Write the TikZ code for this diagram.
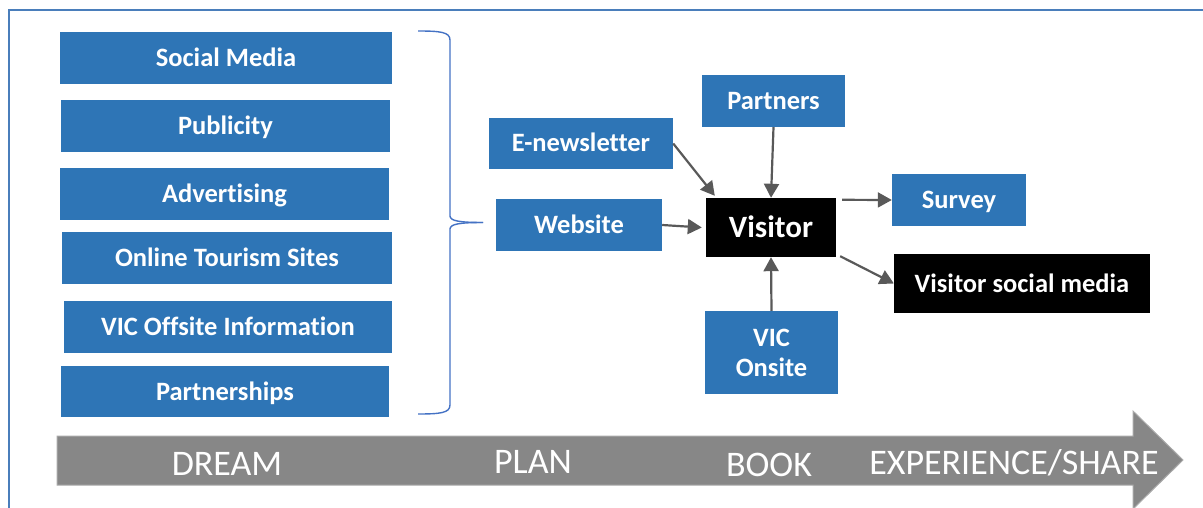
\documentclass[tikz,border=0pt]{standalone}
\usepackage{fontspec}
\setmainfont{Carlito}[Ligatures={TeX,NoCommon}]
\usetikzlibrary{arrows.meta,calc}
\definecolor{boxblue}{RGB}{46,117,182}
\definecolor{frameblue}{RGB}{74,126,187}
\definecolor{braceblue}{RGB}{68,114,196}
\definecolor{arrgray}{RGB}{89,89,89}
\definecolor{bandgray}{RGB}{135,135,135}
\definecolor{bandedge}{RGB}{170,170,170}
\begin{document}
\begin{tikzpicture}[x=1pt,y=-1pt,
  box/.style={fill=boxblue, text=white, font=\fontsize{26.5}{30}\selectfont\bfseries,
    inner sep=0pt, text height=17pt, text depth=0pt, anchor=center},
  darkbox/.style={box, fill=black},
  arr/.style={draw=arrgray, line width=2.2pt, -{Triangle[length=14pt,width=15pt]}},
  bracepath/.style={draw=braceblue, line width=1.4pt},
  framepath/.style={draw=frameblue, line width=2pt},
  bandlabel/.style={text=white, font=\fontsize{36}{40}\selectfont, inner sep=0pt, anchor=base}]
\useasboundingbox (0,0) rectangle (1203,508);
% frame
\draw[framepath] (1203,10) -- (9,10) -- (9,508);
% left column
\node[box, minimum width=332pt, minimum height=52pt] (sm) at (226,58) {Social Media};
\node[box, minimum width=329pt, minimum height=52pt] (pub) at (225.5,126) {Publicity};
\node[box, minimum width=329pt, minimum height=52pt] (adv) at (224.5,194) {Advertising};
\node[box, minimum width=330pt, minimum height=52pt] (ots) at (227,258) {Online Tourism Sites};
\node[box, minimum width=328pt, minimum height=52pt] (vico) at (228,327) {VIC Offsite Information};
\node[box, minimum width=328pt, minimum height=51pt] (pship) at (225,391.5) {Partnerships};
% brace
\draw[bracepath] (418,31) .. controls (440,31) and (450,32) .. (450,40) -- (450,216)
  .. controls (450,221) and (460,222.5) .. (483,222.5);
\draw[bracepath] (483,222.5) .. controls (460,222.5) and (450,224) .. (450,229) -- (450,405)
  .. controls (450,413) and (440,414) .. (418,414);
% middle nodes
\node[box, minimum width=184pt, minimum height=51pt] (enews) at (581,143.5) {E-newsletter};
\node[box, minimum width=166pt, minimum height=52pt] (website) at (579,225) {Website};
\node[box, minimum width=143pt, minimum height=52pt] (partners) at (773.5,101) {Partners};
\node[darkbox, font=\fontsize{31}{34}\selectfont\bfseries, text height=20pt,
  minimum width=130pt, minimum height=59pt] (visitor) at (771,227.5) {Visitor};
\node[box, text height=, text depth=, align=center, minimum width=133pt, minimum height=83pt]
  (vic) at (771.5,352.5) {VIC\\Onsite};
\node[box, minimum width=134pt, minimum height=52pt] (survey) at (959,200) {Survey};
\node[darkbox, minimum width=256pt, minimum height=59pt] (vsm) at (1022,283.5) {Visitor social media};
% connectors
\draw[arr] (enews.east) -- ($(visitor.north west)+(9,-2)$);
\draw[arr] (website.east) -- ($(visitor.west)+(-4,0)$);
\draw[arr] (partners.south) -- (visitor.north);
\draw[arr] (vic.north) -- (visitor.south);
\draw[arr] ($(visitor.north east)+(6,2)$) -- (survey.west);
\draw[arr] ($(visitor.south east)+(4,-1)$) -- (vsm.west);
% band arrow
\fill[bandgray, draw=bandedge, line width=1pt] (57,436) -- (1133,436) -- (1133,411) -- (1183,460)
  -- (1133,509) -- (1133,485) -- (57,485) -- cycle;
\node[bandlabel] (dream) at (227,475) {DREAM};
\node[bandlabel] (plan) at (533,473) {PLAN};
\node[bandlabel] (book) at (769,476) {BOOK};
\node[bandlabel] (exp) at (1014,474) {EXPERIENCE/SHARE};
\end{tikzpicture}
\end{document}
